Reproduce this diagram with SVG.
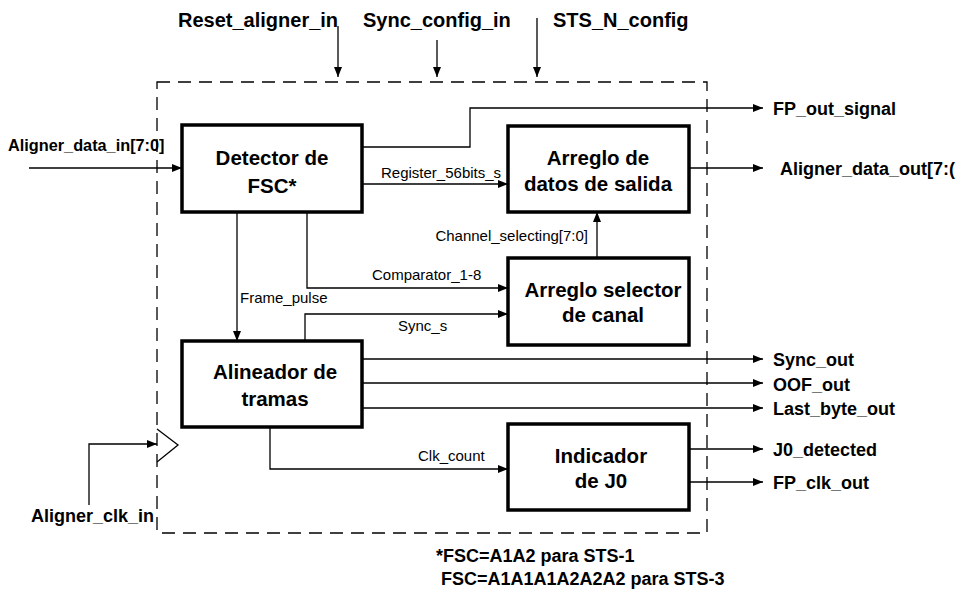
<svg xmlns="http://www.w3.org/2000/svg" width="960" height="594" viewBox="0 0 960 594">
<defs>
<marker id="ah" markerWidth="10" markerHeight="8" refX="10" refY="4" orient="auto" markerUnits="userSpaceOnUse">
<path d="M0,0 L10,4 L0,8 Z" fill="#000"/>
</marker>
</defs>
<style>
.blk{fill:#fff;stroke:#000;stroke-width:3.5}
.bt{font-family:"Liberation Sans",Arial,sans-serif;font-weight:bold;font-size:20.5px;text-anchor:middle}
.io{font-family:"Liberation Sans",Arial,sans-serif;font-weight:bold;font-size:18px}
.top{font-size:20px}
.sl{font-family:"Liberation Sans",Arial,sans-serif;font-size:15px}
.ln{fill:none;stroke:#000;stroke-width:1.3}
.ar{fill:none;stroke:#000;stroke-width:1.3;marker-end:url(#ah)}
</style>
<rect width="960" height="594" fill="#fff"/>
<rect id="boundary" x="157" y="82" width="550" height="451" fill="none" stroke="#000" stroke-width="1.3" stroke-dasharray="13 8"/>

<g id="connectors">
<path class="ar" d="M338,26 V77"/>
<path class="ar" d="M437,40 V77"/>
<path class="ar" d="M537,18 V77"/>
<path class="ar" d="M29,168 H182"/>
<path class="ar" d="M362,147 H470 V108 H763"/>
<path class="ar" d="M362,184 H508"/>
<path class="ar" d="M689,168 H763"/>
<path class="ar" d="M597,257 V212"/>
<path class="ar" d="M307,212 V288 H508"/>
<path class="ar" d="M237,212 V341"/>
<path class="ar" d="M305,341 V314 H508"/>
<path class="ar" d="M362,359 H763"/>
<path class="ar" d="M362,383 H763"/>
<path class="ar" d="M362,408 H763"/>
<path class="ar" d="M270,427 V469 H508"/>
<path class="ar" d="M689,449 H763"/>
<path class="ar" d="M689,482 H763"/>
<path class="ar" d="M89,505 V444 H157"/>
<path class="ln" d="M157,429 L178,445 L157,462"/>
</g>

<g id="detector">
<rect class="blk" x="182" y="125" width="180" height="87"/>
<text class="bt" x="272" y="165">Detector de</text>
<text class="bt" x="272" y="193">FSC*</text>
</g>
<g id="alineador">
<rect class="blk" x="182" y="341" width="180" height="86"/>
<text class="bt" x="275" y="379">Alineador de</text>
<text class="bt" x="275" y="406">tramas</text>
</g>
<g id="arreglo_datos">
<rect class="blk" x="508" y="126" width="181" height="86"/>
<text class="bt" x="598" y="165">Arreglo de</text>
<text class="bt" x="598" y="191">datos de salida</text>
</g>
<g id="arreglo_selector">
<rect class="blk" x="508" y="258" width="181" height="87"/>
<text class="bt" x="603" y="297">Arreglo selector</text>
<text class="bt" x="603" y="322">de canal</text>
</g>
<g id="indicador">
<rect class="blk" x="508" y="424" width="181" height="86"/>
<text class="bt" x="601" y="463">Indicador</text>
<text class="bt" x="601" y="488">de J0</text>
</g>

<g id="labels">
<text class="io top" x="178" y="27">Reset_aligner_in</text>
<text class="io top" x="363" y="27">Sync_config_in</text>
<text class="io top" x="553" y="27">STS_N_config</text>
<text class="io" x="8" y="151" style="font-size:16.3px">Aligner_data_in[7:0]</text>
<text class="io" x="773" y="115">FP_out_signal</text>
<text class="io" x="780" y="175">Aligner_data_out[7:(</text>
<text class="io" x="773" y="366">Sync_out</text>
<text class="io" x="773" y="391">OOF_out</text>
<text class="io" x="773" y="415">Last_byte_out</text>
<text class="io" x="773" y="456">J0_detected</text>
<text class="io" x="773" y="489">FP_clk_out</text>
<text class="io" x="31" y="522">Aligner_clk_in</text>
<text class="io" x="436" y="562">*FSC=A1A2 para STS-1</text>
<text class="io" x="441" y="585">FSC=A1A1A1A2A2A2 para STS-3</text>
<text class="sl" x="381" y="178">Register_56bits_s</text>
<text class="sl" x="588" y="241" text-anchor="end">Channel_selecting[7:0]</text>
<text class="sl" x="372" y="280">Comparator_1-8</text>
<text class="sl" x="240" y="303">Frame_pulse</text>
<text class="sl" x="398" y="331">Sync_s</text>
<text class="sl" x="418" y="461">Clk_count</text>
</g>
</svg>
